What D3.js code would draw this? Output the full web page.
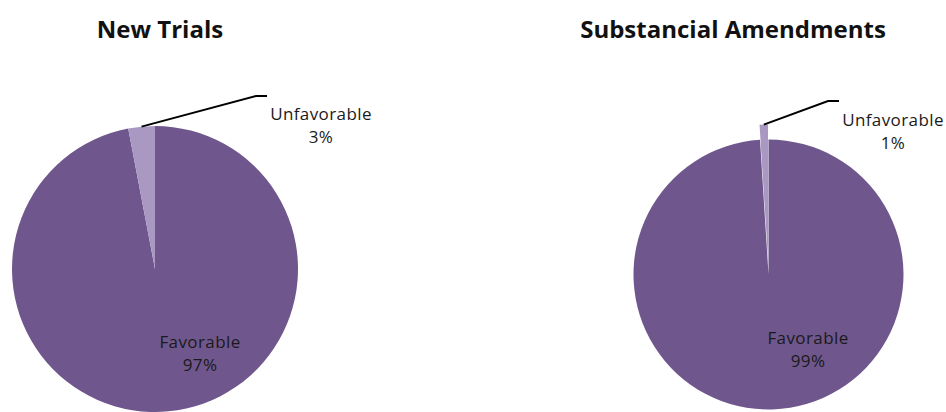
<!DOCTYPE html>
<html>
<head>
<meta charset="utf-8">
<script src="https://cdn.jsdelivr.net/npm/d3@7"></script>
<style>
  body { margin: 0; background: #fff; }
  text { font-family: "Open Sans", "DejaVu Sans", sans-serif; }
</style>
</head>
<body>
<div id="my_dataviz"></div>
<script>
// Data
const chartTitles = ["New Trials", "Substancial Amendments"];
const categories = ["Favorable", "Unfavorable"];
const newTrialsValues = [97, 3];
const amendmentValues = [99, 1];
const seriesValues = [newTrialsValues, amendmentValues];

const colors = ["#6f578d", "#a898c2"];

// layout for each pie (positions only)
const layout = [
  { cx: 155, cy: 269, r: 143, titleX: 160, explode: 0,
    favX: 200, favY: 348, unfX: 321, unfY: 120, elbowX: 256, elbowY: 96, endX: 267 },
  { cx: 768.5, cy: 274.5, r: 135, titleX: 733, explode: 15,
    favX: 808, favY: 344, unfX: 893, unfY: 126, elbowX: 828, elbowY: 101, endX: 839 }
];

const width = 946, height = 412;

const svg = d3.select("#my_dataviz")
  .append("svg")
  .attr("width", width)
  .attr("height", height);

const pie = d3.pie().sort(null).value(d => d);

seriesValues.forEach(function(values, i) {
  const L = layout[i];
  const g = svg.append("g")
    .attr("transform", `translate(${L.cx}, ${L.cy})`);

  // favorable first clockwise from top, unfavorable ends at 12 o'clock
  const arcs = pie(values);
  const arc = d3.arc().innerRadius(0).outerRadius(L.r);

  g.selectAll("path")
    .data(arcs)
    .join("path")
      .attr("d", arc)
      .attr("fill", (d, j) => colors[j])
      .attr("transform", function(d, j) {
        if (j !== 1 || !L.explode) return null;
        const mid = (d.startAngle + d.endAngle) / 2;
        return `translate(${Math.sin(mid) * L.explode}, ${-Math.cos(mid) * L.explode})`;
      });

  // title
  svg.append("text")
    .attr("x", L.titleX)
    .attr("y", 38)
    .attr("text-anchor", "middle")
    .style("font-size", "24px")
    .style("font-weight", "bold")
    .attr("fill", "#111")
    .text(chartTitles[i]);

  // leader line from outer edge of small slice
  const s = arcs[1];
  const mid = (s.startAngle + s.endAngle) / 2;
  const rr = L.r + L.explode;
  const ax = L.cx + Math.sin(mid) * rr;
  const ay = L.cy - Math.cos(mid) * rr;
  svg.append("path")
    .attr("d", `M${ax},${ay}L${L.elbowX},${L.elbowY}L${L.endX},${L.elbowY}`)
    .attr("fill", "none")
    .attr("stroke", "#000")
    .attr("stroke-width", 2);

  // labels
  const labelData = [
    { name: categories[0], v: values[0], x: L.favX, y: L.favY },
    { name: categories[1], v: values[1], x: L.unfX, y: L.unfY }
  ];
  labelData.forEach(function(lb) {
    const t = svg.append("text")
      .attr("text-anchor", "middle")
      .attr("fill", "#1a1a1a")
      .style("font-size", "17px")
      .style("letter-spacing", "0.4px");
    t.append("tspan").attr("x", lb.x).attr("y", lb.y).text(lb.name);
    t.append("tspan").attr("x", lb.x).attr("y", lb.y + 23).text(lb.v + "%");
  });
});
</script>
</body>
</html>
